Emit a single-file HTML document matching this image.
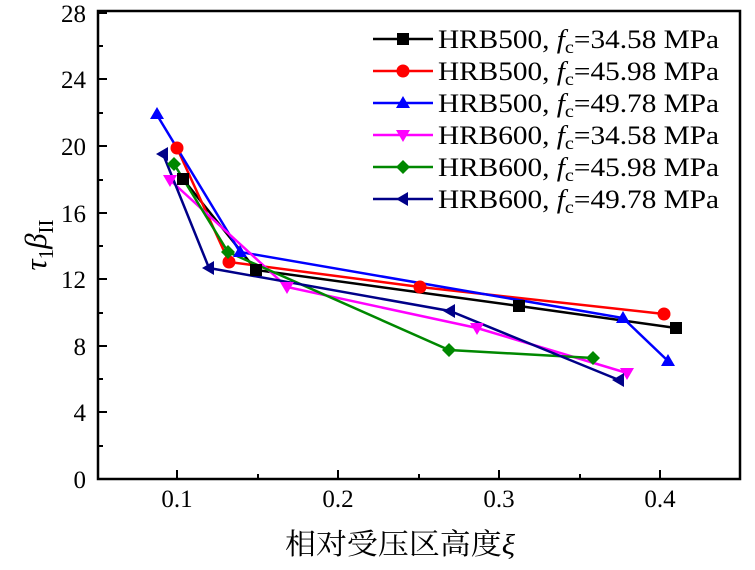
<!DOCTYPE html>
<html><head><meta charset="utf-8"><style>body{margin:0;background:#fff}svg{display:block}</style></head><body>
<svg width="755" height="570" xmlns="http://www.w3.org/2000/svg" font-family="Liberation Serif, serif">
<rect width="755" height="570" fill="#fff"/>
<g stroke="#000" stroke-width="2.5" fill="none">
<rect x="98" y="11" width="642" height="468"/>
</g>
<g stroke="#000" stroke-width="2">
<path d="M98 479h9M98 412h9M98 346h9M98 279h9M98 213h9M98 146h9M98 79h9M98 13h9"/>
<path d="M98 446h5M98 379h5M98 313h5M98 246h5M98 180h5M98 113h5M98 46h5"/>
<path d="M177 479v-9M338 479v-9M499 479v-9M660 479v-9"/>
<path d="M258 479v-5M419 479v-5M580 479v-5"/>
</g>
<g font-size="25" text-anchor="end">
<text x="86" y="488">0</text><text x="86" y="421">4</text><text x="86" y="355">8</text>
<text x="86" y="288">12</text><text x="86" y="222">16</text><text x="86" y="155">20</text>
<text x="86" y="88">24</text><text x="86" y="22">28</text>
</g>
<g font-size="25" text-anchor="middle">
<text x="177" y="507">0.1</text><text x="338" y="507">0.2</text><text x="499" y="507">0.3</text><text x="660" y="507">0.4</text>
</g>
<text x="285" y="554" font-size="29" textLength="230" lengthAdjust="spacingAndGlyphs" font-family="Liberation Serif, Noto Serif CJK SC, serif">相对受压区高度<tspan font-style="italic">ξ</tspan></text>
<text transform="translate(46,245) rotate(-90)" font-size="31" text-anchor="middle"><tspan font-style="italic">τ</tspan><tspan font-size="21" dy="7">1</tspan><tspan font-style="italic" dy="-7">β</tspan><tspan font-size="21" dy="7">II</tspan></text>

<g stroke-width="2.5" fill="none">
<polyline stroke="#000" points="183,179 256,270 519,306 676,328"/>
<polyline stroke="#f00" points="177,148 229,262 420,287 664,314"/>
<polyline stroke="#00f" points="157,115 240,252 623,318 668,361"/>
<polyline stroke="#f0f" points="170,180 287,287 477,328 627,373"/>
<polyline stroke="#080" points="174,164 228,252 449,350 593,358"/>
<polyline stroke="#008" points="163,154 209,268 450,311 619,380"/>
</g>
<g>
<g fill="#000"><rect x="177" y="173" width="12" height="12"/><rect x="250" y="264" width="12" height="12"/><rect x="513" y="300" width="12" height="12"/><rect x="670" y="322" width="12" height="12"/></g>
<g fill="#f00"><circle cx="177" cy="148" r="6.5"/><circle cx="229" cy="262" r="6.5"/><circle cx="420" cy="287" r="6.5"/><circle cx="664" cy="314" r="6.5"/></g>
<g fill="#00f"><path d="M157 107l7 12h-14z M240 245l7 12h-14z M623 311l7 12h-14z M668 354l7 12h-14z"/></g>
<g fill="#f0f"><path d="M170 187l7-12h-14z M287 294l7-12h-14z M477 335l7-12h-14z M627 380l7-12h-14z"/></g>
<g fill="#080"><path d="M174 157l7 7-7 7-7-7z M228 245l7 7-7 7-7-7z M449 343l7 7-7 7-7-7z M593 351l7 7-7 7-7-7z"/></g>
<g fill="#008"><path d="M156 154l12-7v14z M202 268l12-7v14z M443 311l12-7v14z M612 380l12-7v14z"/></g>
</g>
<g stroke-width="2.5">
<line x1="373" y1="39" x2="433" y2="39" stroke="#000"/><rect x="397" y="33" width="12" height="12" fill="#000"/>
<line x1="373" y1="71" x2="433" y2="71" stroke="#f00"/><circle cx="403" cy="71" r="6.5" fill="#f00"/>
<line x1="373" y1="103" x2="433" y2="103" stroke="#00f"/><path d="M403 96l7 12h-14z" fill="#00f"/>
<line x1="373" y1="135" x2="433" y2="135" stroke="#f0f"/><path d="M403 142l7-12h-14z" fill="#f0f"/>
<line x1="373" y1="167" x2="433" y2="167" stroke="#080"/><path d="M403 160l7 7-7 7-7-7z" fill="#080"/>
<line x1="373" y1="199" x2="433" y2="199" stroke="#008"/><path d="M396 199l12-7v14z" fill="#008"/>
</g>
<g font-size="26">
<text x="438" y="48" textLength="281" lengthAdjust="spacingAndGlyphs">HRB500, <tspan font-style="italic">f</tspan><tspan font-size="18" dy="5">c</tspan><tspan dy="-5">=34.58 MPa</tspan></text>
<text x="438" y="80" textLength="281" lengthAdjust="spacingAndGlyphs">HRB500, <tspan font-style="italic">f</tspan><tspan font-size="18" dy="5">c</tspan><tspan dy="-5">=45.98 MPa</tspan></text>
<text x="438" y="112" textLength="281" lengthAdjust="spacingAndGlyphs">HRB500, <tspan font-style="italic">f</tspan><tspan font-size="18" dy="5">c</tspan><tspan dy="-5">=49.78 MPa</tspan></text>
<text x="438" y="144" textLength="281" lengthAdjust="spacingAndGlyphs">HRB600, <tspan font-style="italic">f</tspan><tspan font-size="18" dy="5">c</tspan><tspan dy="-5">=34.58 MPa</tspan></text>
<text x="438" y="176" textLength="281" lengthAdjust="spacingAndGlyphs">HRB600, <tspan font-style="italic">f</tspan><tspan font-size="18" dy="5">c</tspan><tspan dy="-5">=45.98 MPa</tspan></text>
<text x="438" y="208" textLength="281" lengthAdjust="spacingAndGlyphs">HRB600, <tspan font-style="italic">f</tspan><tspan font-size="18" dy="5">c</tspan><tspan dy="-5">=49.78 MPa</tspan></text>
</g>
</svg>
</body></html>
